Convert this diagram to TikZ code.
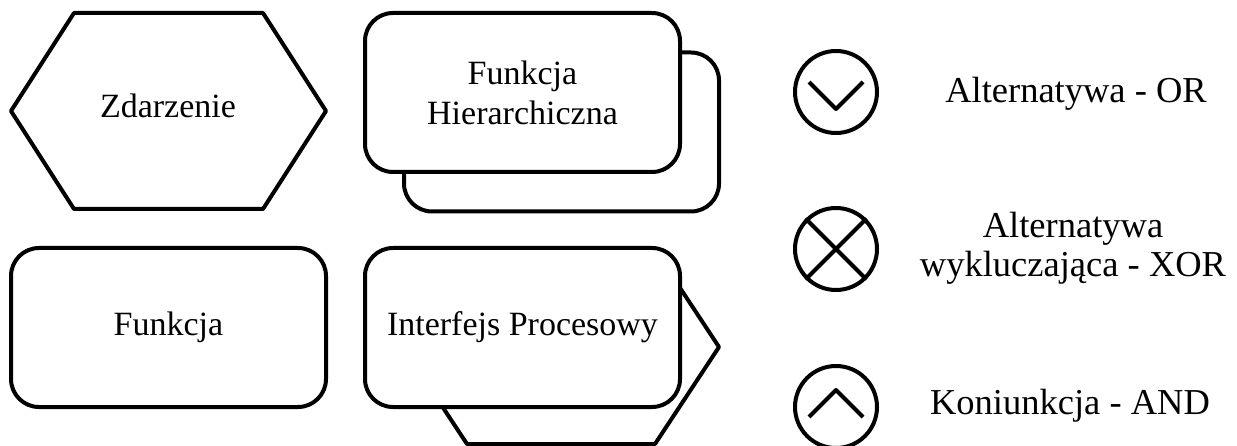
\documentclass[tikz,border=0pt]{standalone}
\usepackage{fontspec}
\setmainfont{Liberation Serif}
\usepackage{tikz}

\tikzset{
	epc/.style={line width=4pt, line join=round},
	func/.style={epc, draw, fill=white, rounded corners=28pt, minimum width=315pt, minimum height=159pt, align=center, font=\fontsize{34}{40}\selectfont},
	gate/.style={epc, draw, circle, minimum size=82pt, inner sep=0pt},
	legend/.style={align=center, font=\fontsize{36.5}{39}\selectfont},
}

\begin{document}
\begin{tikzpicture}[x=1pt, y=-1pt] % pixel-like units, y pointing down
	\useasboundingbox (0,0) rectangle (1237,446);
	
	% Event (hexagon)
	\draw[epc] (11,111) -- (74,13) -- (263,13) -- (326,111) -- (263,209) -- (74,209) -- cycle;
	\node[font=\fontsize{34}{40}\selectfont] (zdarzenie) at (168,106) {Zdarzenie};
	
	% Function
	\node[func] (funkcja) at (168.5,327.5) {Funkcja};
	
	% Hierarchical function: a second box behind the first
	\node[func] (hierback) at (561.5,132) {};
	\node[func] (hier) at (522.5,92.5) {Funkcja\\Hierarchiczna};
	
	% Process interface: hexagon behind the box
	\draw[epc, fill=white] (467,250) -- (655,250) -- (719,347) -- (655,444) -- (467,444) -- (403,347) -- cycle;
	\node[func] (interfejs) at (522.5,327.5) {Interfejs Procesowy};
	
	% Connectors OR, XOR, AND
	\foreach \n/\y in {or/92, xor/249, and/407}
	\node[gate] (\n) at (836,\y) {};
	\draw[epc] (or.center) ++(-27,-10) -- ++(27,27) -- ++(27,-27);
	\draw[epc] (xor.45) -- (xor.225) (xor.135) -- (xor.315);
	\draw[epc] (and.center) ++(-27,10) -- ++(27,-27) -- ++(27,27);
	
	% Legend texts
	\node[legend] (orlab) at (1076,94) {Alternatywa - OR};
	\node[legend] (xorlab) at (1073,248) {Alternatywa\\wykluczająca - XOR};
	\node[legend] (andlab) at (1070,406) {Koniunkcja - AND};
\end{tikzpicture}
\end{document}
